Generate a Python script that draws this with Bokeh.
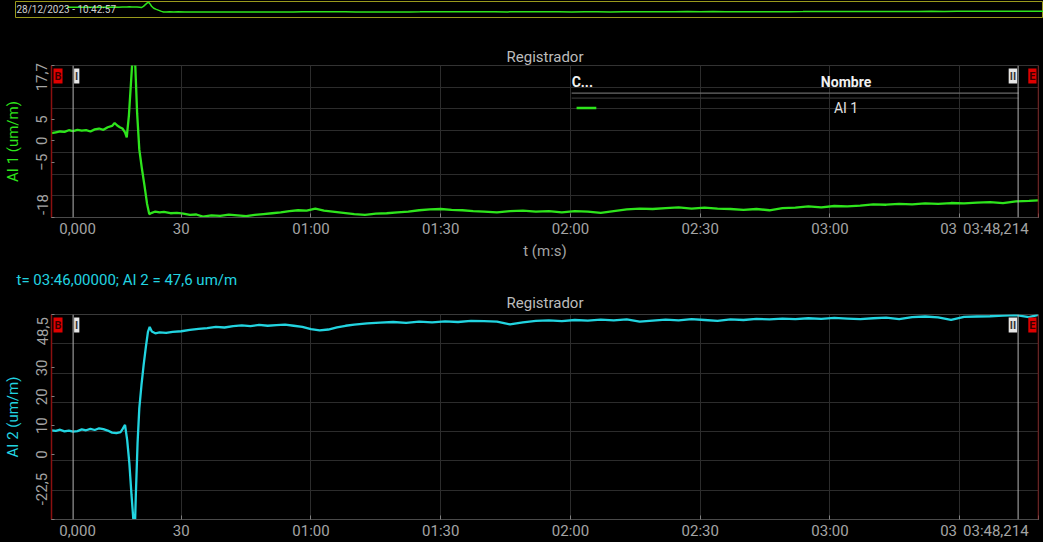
from bokeh.plotting import figure
from bokeh.models import Range1d, FixedTicker, CustomJSTickFormatter, Label, Span, Title
from bokeh.layouts import column, row
from bokeh.embed import file_html
from bokeh.resources import INLINE

# ---------------- data ----------------
T_END = 228.214
CURSOR_I = 5.0
CURSOR_II = 223.5

t_ai1 = [0, 1, 2, 3, 4, 5, 6, 7, 8, 9, 10, 11, 12, 13, 14, 14.6, 15.2, 15.8, 16.4, 17.0,
         17.4, 17.9, 18.4, 18.8, 19.1, 19.4, 19.8, 20.3, 20.9, 21.5, 22.1, 22.6, 23.2, 24, 25,
         26, 27.5, 29, 30.5, 32, 33.5, 35, 37, 39, 41, 43, 45, 47, 49, 51, 53, 55, 57, 59, 61,
         63, 65, 67.5, 70, 72.5, 75, 77.5, 80, 82.5, 85, 87.5, 90, 92.5, 95, 97.5, 100, 103,
         106, 109, 112, 115, 118, 121, 124, 127, 130, 133, 136, 139, 142, 145, 148, 151, 154,
         157, 160, 163, 166, 169, 172, 175, 178, 181, 184, 187, 190, 193, 196, 199, 202, 205,
         208, 211, 214, 217, 220, 223, 226, 228.2]
ai1 = [1.8, 2.0, 2.2, 2.1, 2.5, 2.3, 2.6, 2.4, 2.5, 2.2, 2.7, 2.9, 2.6, 3.2, 3.5, 4.2, 3.6,
       3.2, 2.9, 2.0, 0.8, 6.0, 14.0, 20.5, 23.0, 17.0, 6.5, -2.0, -6.5, -10.5, -14.8, -17.2,
       -16.9, -16.6, -16.8, -16.7, -17.0, -16.9, -17.1, -17.4, -17.3, -17.8, -17.5, -17.6,
       -17.3, -17.5, -17.7, -17.4, -17.2, -17.0, -16.8, -16.5, -16.3, -16.4, -15.9, -16.4,
       -16.6, -16.9, -17.2, -17.4, -17.1, -17.0, -16.8, -16.6, -16.3, -16.1, -16.0, -16.2,
       -16.3, -16.5, -16.6, -16.8, -16.5, -16.4, -16.6, -16.5, -16.8, -16.5, -16.6, -16.9,
       -16.5, -16.1, -15.9, -16.0, -15.8, -15.6, -15.9, -15.7, -15.9, -16.0, -16.2, -16.0,
       -16.3, -15.8, -15.7, -15.4, -15.6, -15.3, -15.4, -15.2, -14.9, -15.0, -14.8, -14.9,
       -14.7, -14.8, -14.6, -14.7, -14.5, -14.4, -14.6, -14.2, -14.1, -14.0]

t_ai2 = [0, 1, 2, 3, 4, 5, 6, 7, 8, 9, 10, 11, 12, 13, 14, 15, 16, 16.5, 17, 17.5, 18, 18.5,
         18.9, 19.2, 19.5, 19.9, 20.3, 20.8, 21.3, 21.8, 22.3, 22.7, 23.2, 24, 25, 26.5, 28,
         30, 32, 34, 36, 38, 40, 42, 44, 46, 48, 50, 52, 54, 56, 58, 60, 62, 64, 66, 68, 70,
         73, 76, 79, 82, 85, 88, 91, 94, 97, 100, 103, 106, 109, 112, 115, 118, 121, 124, 127,
         130, 133, 136, 139, 142, 145, 148, 151, 154, 157, 160, 163, 166, 169, 172, 175, 178,
         181, 184, 187, 190, 193, 196, 199, 202, 205, 208, 211, 214, 217, 220, 223, 226, 228.2]
ai2 = [8.4, 8.2, 8.6, 8.0, 8.3, 7.9, 8.1, 8.7, 8.4, 8.9, 8.5, 9.1, 8.8, 8.3, 7.6, 7.4, 7.8,
       9.0, 10.3, 5.0, -3.0, -14.0, -22.0, -30.0, -14.0, 4.0, 16.0, 24.0, 31.0, 37.0, 42.5,
       44.2, 42.6, 42.0, 42.3, 42.1, 42.5, 42.7, 43.2, 43.5, 43.8, 44.2, 44.0, 44.5, 44.7,
       44.5, 44.9, 44.6, 44.8, 45.0, 44.6, 44.2, 43.4, 43.0, 43.3, 44.0, 44.6, 45.0, 45.4,
       45.7, 45.9, 45.6, 46.0, 45.8, 46.1, 45.9, 46.3, 46.2, 46.0, 45.1, 45.8, 46.3, 46.5,
       46.2, 46.6, 46.4, 46.7, 46.5, 46.8, 46.0, 46.4, 46.7, 46.5, 46.9, 46.6, 46.3, 46.8,
       46.6, 47.0, 46.8, 47.1, 46.9, 47.2, 47.0, 47.3, 47.1, 46.9, 47.2, 47.4, 46.9, 47.6,
       47.8, 47.5, 46.6, 47.7, 47.8, 47.9, 48.1, 48.3, 47.6, 48.4]

x_ticks = [30, 60, 90, 120, 150, 180, 210]
ai1_range = [-18, 17.7]
ai1_ticks = [-5, 0, 5]
ai1_edge_labels = ["-18", "17,7"]
ai2_range = [-22.5, 48.5]
ai2_ticks = [0, 10, 20, 30]
ai2_edge_labels = ["-22,5", "48,5"]
x_edge_labels = ["0,000", "03:48,214"]
x_partial_label = "03"          # the 03:30 label is half hidden by the end-time box
date_text = "28/12/2023 - 10:42:57"
readout_text = "t= 03:46,00000; AI 2 = 47,6 um/m"
title_text = "Registrador"
legend_header = ["C...", "Nombre"]
legend_name = "AI 1"

# ---------------- style ----------------
FONT = "Roboto"
BG = "#000000"
GRID = "#2c2c2c"
TXT = "#a4a4a4"
GREEN = "#2ee41c"
CYAN = "#22d4e0"
DARKRED = "#8b1010"
W = 1043
LEFT = 48
RIGHT = 5
NB = "\u00a0"

fmt = CustomJSTickFormatter(code="""
const s = Math.round(tick);
if (s < 60) return String(s);
const m = Math.floor(s / 60), r = s % 60;
return String(m).padStart(2, '0') + ':' + String(r).padStart(2, '0');
""")


def lab(p, x, y, text, **kw):
    opts = dict(text_font=FONT, text_font_size="15px", text_color=TXT, level="overlay")
    opts.update(kw)
    p.add_layout(Label(x=x, y=y, text=text, **opts))


def chart(height, top, bottom, t, v, color, ylabel, yr, yticks, yedge, xlabel, pads):
    p = figure(width=W, height=height, x_range=Range1d(0, T_END), y_range=Range1d(*yr),
               toolbar_location=None, output_backend="svg",
               min_border_left=LEFT, min_border_right=RIGHT, min_border_top=top,
               min_border_bottom=bottom, background_fill_color=BG, border_fill_color=BG,
               outline_line_color="#3a3a3a")

    p.xgrid.ticker = FixedTicker(ticks=x_ticks)
    p.ygrid.ticker = FixedTicker(ticks=[yr[0] + i * (yr[1] - yr[0]) / 7 for i in range(8)])
    p.grid.grid_line_color = GRID

    # x axis: regular ticks plus start / end labels
    xa = p.xaxis[0]
    xa.ticker = FixedTicker(ticks=[0] + x_ticks + [T_END])
    xa.formatter = fmt
    xa.major_label_overrides = {
        0: NB * 14 + x_edge_labels[0],
        x_ticks[-1]: x_partial_label + NB * 6,
        T_END: x_edge_labels[1] + NB * 4,
    }
    xa.major_label_text_font = FONT
    xa.major_label_text_font_size = "15px"
    xa.major_label_text_color = TXT
    xa.major_label_standoff = 2
    xa.major_tick_in = 4
    xa.major_tick_out = 0
    xa.major_tick_line_color = "#808080"
    xa.minor_tick_line_color = None
    xa.axis_line_color = "#4a4a4a"
    if xlabel:
        xa.axis_label = xlabel
        xa.axis_label_text_font = FONT
        xa.axis_label_text_font_size = "15px"
        xa.axis_label_text_font_style = "normal"
        xa.axis_label_text_color = TXT
        xa.axis_label_standoff = 1

    # y axis: regular ticks plus range extremes
    ya = p.yaxis[0]
    ya.ticker = FixedTicker(ticks=[yr[0]] + yticks + [yr[1]])
    ya.major_label_overrides = {
        yr[0]: NB * pads[0] + yedge[0],
        yr[1]: yedge[1] + NB * pads[1],
    }
    ya.major_label_orientation = "vertical"
    ya.major_label_text_font = FONT
    ya.major_label_text_font_size = "15px"
    ya.major_label_text_color = TXT
    ya.major_label_standoff = 0
    ya.major_tick_in = 3
    ya.major_tick_out = 0
    ya.major_tick_line_color = "#808080"
    ya.minor_tick_line_color = None
    ya.axis_line_color = DARKRED
    ya.axis_line_width = 1.5
    ya.axis_label = ylabel
    ya.axis_label_text_font = FONT
    ya.axis_label_text_font_size = "15px"
    ya.axis_label_text_font_style = "normal"
    ya.axis_label_text_color = color
    ya.axis_label_standoff = 9

    for loc in (CURSOR_I, CURSOR_II):
        p.add_layout(Span(location=loc, dimension="height", line_color="#b4b4b4", line_width=1))
    p.add_layout(Span(location=T_END, dimension="height", line_color=DARKRED, line_width=1.5))

    p.line(t, v, line_color=color, line_width=2.3)

    mk = dict(text_font_size="11px", text_font_style="bold", padding=1, text_baseline="top",
              y_offset=-3)
    lab(p, 0, yr[1], "B", text_align="left", x_offset=2, background_fill_color="#e00000",
        text_color="#3a0000", **mk)
    lab(p, T_END, yr[1], "E", text_align="right", x_offset=-2, background_fill_color="#e00000",
        text_color="#3a0000", **mk)
    lab(p, CURSOR_I, yr[1], "I", text_align="left", x_offset=1, background_fill_color="#e6e6e6",
        text_color="#333333", **mk)
    lab(p, CURSOR_II, yr[1], "II", text_align="right", x_offset=-1,
        background_fill_color="#e6e6e6", text_color="#333333", **mk)
    return p


def style_title(tt, text, align, standoff, color="#bcbcbc", offset=0):
    tt.text = text
    tt.align = align
    tt.standoff = standoff
    tt.offset = offset
    tt.text_color = color
    tt.text_font = FONT
    tt.text_font_size = "15px"
    tt.text_font_style = "normal"


# ---------------- overview strip ----------------
pa = figure(width=W, height=44, x_range=Range1d(-12, T_END), y_range=Range1d(-40, 26),
            toolbar_location=None, output_backend="svg", x_axis_location=None,
            y_axis_location=None, min_border_left=15, min_border_right=0, min_border_top=1,
            min_border_bottom=27, background_fill_color=BG, border_fill_color=BG,
            outline_line_color="#9a9a1c")
pa.grid.visible = False
pa.line(t_ai1, ai1, line_color=GREEN, line_width=1.5)
pa.add_layout(Label(x=-12, y=-7, text=date_text, x_offset=1, text_baseline="middle",
                    text_font=FONT, text_font_size="10px", text_color="#d0d0d0"))

# ---------------- upper chart ----------------
pb = chart(218, 21, 42, t_ai1, ai1, GREEN, "AI 1 (um/m)", ai1_range, ai1_ticks,
           ai1_edge_labels, "t (m:s)", (7, 5))
style_title(pb.title, title_text, "center", 0)


def fx(p, f):
    return p.x_range.start + f * (p.x_range.end - p.x_range.start)


def fy(p, f):
    return p.y_range.start + f * (p.y_range.end - p.y_range.start)


lab(pb, fx(pb, 0.527), fy(pb, 0.89), legend_header[0], text_color="#f0f0f0",
    text_font_size="14px", text_font_style="bold", text_baseline="middle")
lab(pb, fx(pb, 0.805), fy(pb, 0.89), legend_header[1], text_color="#f0f0f0",
    text_font_size="14px", text_font_style="bold", text_baseline="middle", text_align="center")
lab(pb, fx(pb, 0.805), fy(pb, 0.72), legend_name, text_color="#e0e0e0",
    text_font_size="14px", text_baseline="middle", text_align="center")
pb.segment(x0=[fx(pb, 0.527), fx(pb, 0.527)], y0=[fy(pb, 0.818), fy(pb, 0.786)],
           x1=[fx(pb, 0.98), fx(pb, 0.98)], y1=[fy(pb, 0.818), fy(pb, 0.786)],
           line_color=["#6a6a6a", "#333333"], line_width=1.3)
pb.segment(x0=[fx(pb, 0.532)], y0=[fy(pb, 0.72)], x1=[fx(pb, 0.552)], y1=[fy(pb, 0.72)],
           line_color=GREEN, line_width=2.5)

# ---------------- lower chart ----------------
pc = chart(280, 52, 22, t_ai2, ai2, CYAN, "AI 2 (um/m)", ai2_range, ai2_ticks,
           ai2_edge_labels, None, (10, 9))
style_title(pc.title, readout_text, "left", 1, color=CYAN, offset=-35)
pc.add_layout(Title(text=title_text, align="center", standoff=5, text_color="#bcbcbc",
                    text_font=FONT, text_font_size="15px", text_font_style="normal"), "above")

layout = column(row(pa, styles={"background-color": "black"}),
                column(pb, pc, spacing=0, styles={"background-color": "black"}),
                spacing=0, styles={"background-color": "black"})
open("out.html", "w").write(file_html(layout, INLINE))
